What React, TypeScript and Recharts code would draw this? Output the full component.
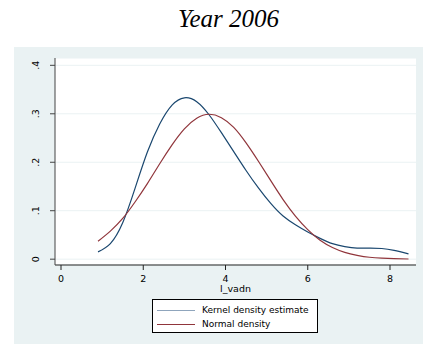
import { CartesianGrid, Label, Line, LineChart, XAxis, YAxis } from "recharts";

const xValues = [
  0.9, 1.2, 1.5, 1.8, 2.1, 2.4, 2.7, 3.0, 3.3, 3.6, 3.9, 4.2, 4.5, 4.8, 5.1,
  5.4, 5.7, 6.0, 6.3, 6.6, 6.9, 7.2, 7.5, 7.8, 8.1, 8.45,
];
const kernelValues = [
  0.015, 0.032, 0.075, 0.146, 0.221, 0.279, 0.318, 0.333, 0.325, 0.298, 0.261,
  0.222, 0.183, 0.147, 0.115, 0.089, 0.071, 0.056, 0.043, 0.032, 0.026, 0.023,
  0.023, 0.022, 0.018, 0.011,
];
const normalValues = [
  0.037, 0.058, 0.084, 0.118, 0.156, 0.197, 0.236, 0.269, 0.291, 0.299, 0.292,
  0.272, 0.24, 0.202, 0.162, 0.123, 0.089, 0.061, 0.039, 0.024, 0.014, 0.008,
  0.004, 0.002, 0.001, 0.0004,
];
const xTicks = [0, 2, 4, 6, 8];
const yTicks = [0, 0.1, 0.2, 0.3, 0.4];
const yTickLabels = ["0", ".1", ".2", ".3", ".4"];
const seriesNames = ["Kernel density estimate", "Normal density"];

const BLUE = "#1a476f";
const RED = "#90353b";
const FONT = "DejaVu Sans, Verdana, sans-serif";

const data = xValues.map((x, i) => ({
  x,
  kernel: kernelValues[i],
  normal: normalValues[i],
}));

function YTick({ y, payload }: any) {
  const idx = yTicks.indexOf(payload.value);
  return (
    <text
      transform={`translate(35,${y}) rotate(-90)`}
      textAnchor="middle"
      dominantBaseline="central"
      fontSize={9.5}
      fontFamily={FONT}
      fill="#000"
    >
      {yTickLabels[idx] ?? payload.value}
    </text>
  );
}

export default function App() {
  return (
    <div
      style={{
        position: "absolute",
        left: 0,
        top: 0,
        width: 423,
        height: 345,
        background: "#fff",
        overflow: "hidden",
      }}
    >
      <div
        style={{
          position: "absolute",
          left: 14,
          top: 47,
          width: 409,
          height: 297,
          background: "#eaf2f3",
        }}
      />
      <div
        style={{
          position: "absolute",
          left: 0,
          width: 457,
          top: 4,
          textAlign: "center",
          fontFamily: "Liberation Serif, Times New Roman, serif",
          fontStyle: "italic",
          fontSize: 25,
          lineHeight: "30px",
          color: "#000",
        }}
      >
        Year 2006
      </div>
      <div style={{ position: "absolute", left: 0, top: 0 }}>
        <LineChart
          width={423}
          height={345}
          data={data}
          margin={{ top: 58, right: 7, bottom: 50, left: 0 }}
        >
          <CartesianGrid vertical={false} stroke="#eaf2f3" fill="#ffffff" />
          <XAxis
            type="number"
            dataKey="x"
            domain={[-0.146, 8.632]}
            ticks={xTicks}
            allowDataOverflow
            height={30}
            tickSize={5}
            tickMargin={5}
            axisLine={{ stroke: "#222" }}
            tickLine={{ stroke: "#222" }}
            tick={{ fill: "#000", fontSize: 9.5, fontFamily: FONT }}
          >
            <Label
              content={({ viewBox }: any) => (
                <text
                  x={viewBox.x + viewBox.width / 2}
                  y={viewBox.y + 26.5}
                  textAnchor="middle"
                  fontSize={9.5}
                  fontFamily={FONT}
                  fill="#000"
                >
                  l_vadn
                </text>
              )}
            />
          </XAxis>
          <YAxis
            type="number"
            domain={[-0.012, 0.4151]}
            ticks={yTicks}
            allowDataOverflow
            width={55}
            tickSize={5}
            axisLine={{ stroke: "#444" }}
            tickLine={{ stroke: "#444" }}
            tick={<YTick />}
          />
          <Line
            type="natural"
            dataKey="kernel"
            stroke={BLUE}
            strokeWidth={1.2}
            dot={false}
            isAnimationActive={false}
          />
          <Line
            type="natural"
            dataKey="normal"
            stroke={RED}
            strokeWidth={1.2}
            dot={false}
            isAnimationActive={false}
          />
        </LineChart>
      </div>
      <div
        style={{
          position: "absolute",
          left: 152,
          top: 299,
          width: 164,
          height: 32,
          border: "1px solid #000",
          background: "#fff",
          fontFamily: FONT,
          fontSize: 9,
          color: "#000",
        }}
      >
        {seriesNames.map((name, i) => (
          <div
            key={name}
            style={{
              position: "absolute",
              left: 4,
              top: 4 + i * 14.4,
              height: 12,
              display: "flex",
              alignItems: "center",
              whiteSpace: "nowrap",
            }}
          >
            <span
              style={{
                display: "inline-block",
                width: 38,
                height: 0,
                borderTop: `1.5px solid ${i === 0 ? "#8fa5bc" : RED}`,
                marginRight: 7,
              }}
            />
            {name}
          </div>
        ))}
      </div>
    </div>
  );
}
